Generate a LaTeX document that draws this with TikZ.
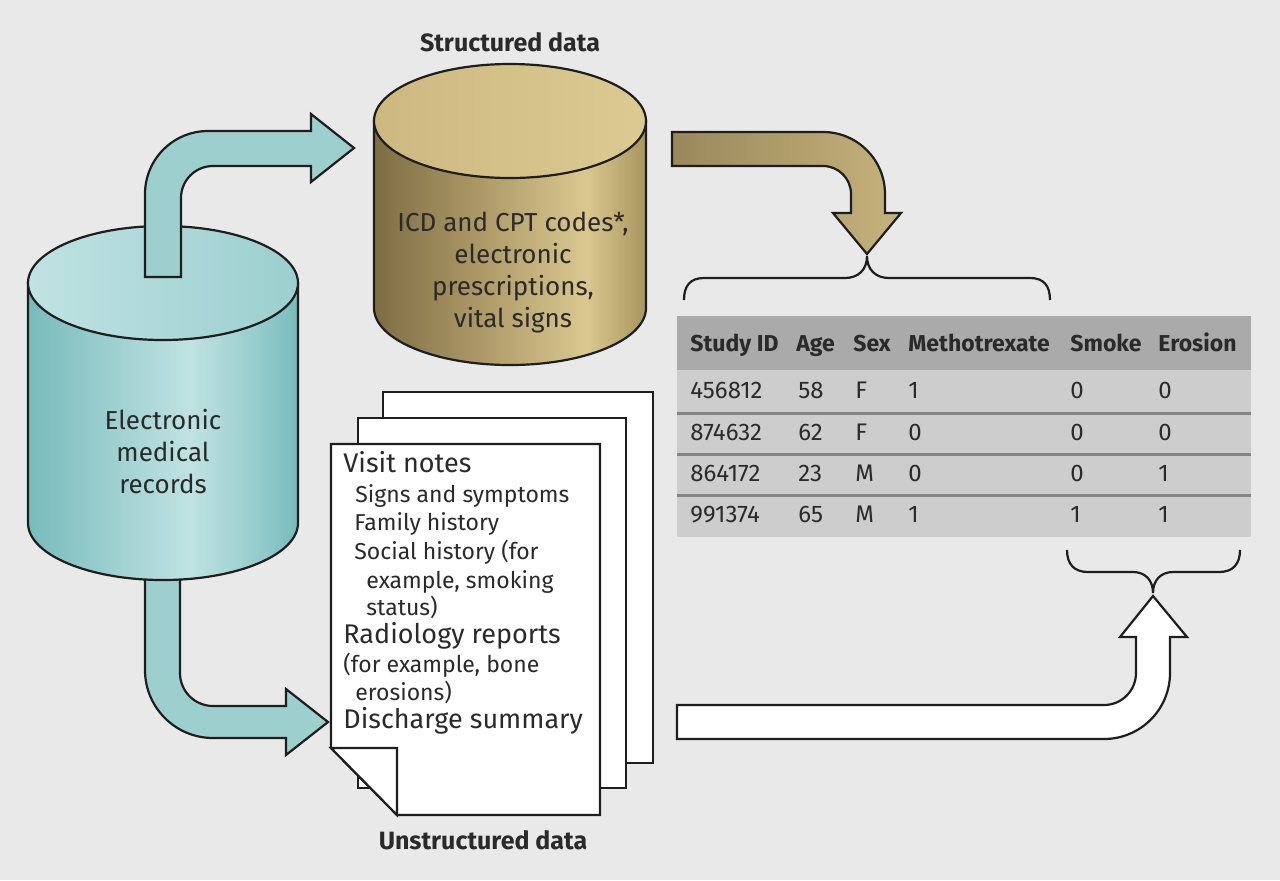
\documentclass[tikz,border=0pt]{standalone}
\usepackage{fontspec}
\setmainfont{Fira Sans}
\definecolor{bg}{HTML}{E9E9E9}
\definecolor{tealD}{HTML}{78BBBC}
\definecolor{tealM}{HTML}{9CCFCF}
\definecolor{tealL}{HTML}{C0E2E2}
\definecolor{tealA}{HTML}{9DCFCE}
\definecolor{goldD}{HTML}{7E6D45}
\definecolor{goldM}{HTML}{AE9A68}
\definecolor{goldL}{HTML}{DAC890}
\definecolor{goldR}{HTML}{A8955F}
\definecolor{goldTL}{HTML}{CDB880}
\definecolor{goldTR}{HTML}{DCCA93}
\definecolor{goldAL}{HTML}{9A885C}
\definecolor{goldAR}{HTML}{C6B27C}
\definecolor{hdr}{HTML}{AAAAAA}
\definecolor{tbody}{HTML}{CDCDCD}
\definecolor{sep}{HTML}{858585}
\definecolor{ink}{HTML}{1E1E1E}
\definecolor{txt}{HTML}{2A2A2A}
\pgfdeclarehorizontalshading{tealside}{100bp}{color(0bp)=(tealD); color(25bp)=(tealD); color(40bp)=(tealM); color(55bp)=(tealL); color(66bp)=(tealM); color(75bp)=(tealD); color(100bp)=(tealD)}
\pgfdeclarehorizontalshading{goldside}{100bp}{color(0bp)=(goldD); color(25bp)=(goldD); color(45bp)=(goldM); color(64bp)=(goldL); color(75bp)=(goldR); color(100bp)=(goldR)}
\begin{document}
\begin{tikzpicture}[x=0.5pt,y=-0.5pt,
  outl/.style={draw=ink, line width=1.1pt, line join=miter},
  tealarrow/.style={outl, fill=tealA},
  cyltext/.style={font=\fontsize{13}{16}\selectfont, align=center, text=txt},
  pgtext/.style={anchor=west, text=txt, inner sep=0pt, text height=1.6ex, text depth=.4ex},
  bigline/.style={pgtext, font=\fontsize{13.5}{16}\selectfont},
  smallline/.style={pgtext, font=\fontsize{11.5}{14}\selectfont},
  thd/.style={anchor=west, inner sep=0pt, text=txt, font=\bfseries\fontsize{11.5}{14}\selectfont, text height=1.6ex, text depth=.4ex},
  tcell/.style={anchor=west, inner sep=0pt, text=txt, font=\fontsize{12}{14}\selectfont, text height=1.6ex, text depth=.4ex},
  bracepath/.style={draw=ink, line width=1.1pt},
  titletext/.style={font=\bfseries\fontsize{12.5}{15}\selectfont, text=txt}]

\fill[bg] (0,0) rectangle (1280,880);
\useasboundingbox (0,0) rectangle (1280,880);

% lower teal arrow (behind EMR cylinder)
\draw[tealarrow] (145,540) -- (145,670) arc[start angle=180,end angle=90,radius=68] -- (286,738) -- (286,755) -- (328,722) -- (286,689) -- (286,706) -- (213,706) arc[start angle=90,end angle=180,radius=33] -- (180,540) -- cycle;

% EMR cylinder
\draw[outl, shade, shading=tealside] (28,283) -- (28,523) arc[start angle=180,end angle=0,x radius=135,y radius=57] -- (298,283) -- cycle;
\draw[outl, left color=tealL, right color=tealM] (163,283) ellipse[x radius=135, y radius=57];
\node[cyltext] (emr) at (163,452) {Electronic\\medical\\records};

% upper teal arrow
\draw[tealarrow] (145,277) -- (145,194) arc[start angle=180,end angle=270,radius=63] -- (311,131) -- (311,114) -- (354,148) -- (311,182) -- (311,166) -- (213,166) arc[start angle=270,end angle=180,radius=32] -- (181,277) -- cycle;

% structured data cylinder
\node[titletext] (sttitle) at (510,42) {Structured data};
\draw[outl, shade, shading=goldside] (374,121) -- (374,308) arc[start angle=180,end angle=0,x radius=136,y radius=57] -- (646,121) -- cycle;
\draw[outl, left color=goldTL, right color=goldTR] (510,121) ellipse[x radius=136, y radius=57];
\node[cyltext] (sd) at (513,273) {ICD and CPT codes*,\\electronic\\prescriptions,\\vital signs};

% gold arrow
\draw[outl, left color=goldAL, right color=goldAR] (672,132) -- (823,132) arc[start angle=270,end angle=360,radius=62] -- (885,213) -- (901,213) -- (867,254) -- (833,213) -- (851,213) -- (851,194) arc[start angle=0,end angle=-90,radius=28] -- (672,166) -- cycle;

% upper brace
\draw[bracepath] (684,300) .. controls (684,286) and (690,278) .. (704,278) -- (845,278) .. controls (858,278) and (867,270) .. (867,256) .. controls (867,270) and (876,278) .. (889,278) -- (1030,278) .. controls (1044,278) and (1050,286) .. (1050,300);

% table
\fill[hdr] (677,316) rectangle (1251,370);
\fill[tbody] (677,370) rectangle (1251,537);
\foreach \yy in {413,454,495} \draw[sep, line width=1.5pt] (677,\yy) -- (1251,\yy);
\node[thd] (h1) at (690,345) {Study ID};
\node[thd] (h2) at (796,345) {Age};
\node[thd] (h3) at (853,345) {Sex};
\node[thd] (h4) at (908,345) {Methotrexate};
\node[thd] (h5) at (1070,345) {Smoke};
\node[thd] (h6) at (1158,345) {Erosion};
\foreach \r/\yy/\a/\b/\c/\d/\e/\f in {1/392/456812/58/F/1/0/0, 2/434/874632/62/F/0/0/0, 3/475/864172/23/M/0/0/1, 4/516/991374/65/M/1/1/1}{
  \node[tcell] (r\r c1) at (690,\yy) {\a};
  \node[tcell] (r\r c2) at (798,\yy) {\b};
  \node[tcell] (r\r c3) at (855,\yy) {\c};
  \node[tcell] (r\r c4) at (908,\yy) {\d};
  \node[tcell] (r\r c5) at (1070,\yy) {\e};
  \node[tcell] (r\r c6) at (1158,\yy) {\f};
}

% pages
\draw[outl, fill=white] (383,392) rectangle (653,763);
\draw[outl, fill=white] (358,418) rectangle (626,788);
\draw[outl, fill=white] (331,444) -- (600,444) -- (600,815) -- (397,815) -- (331,748) -- cycle;
\draw[outl, fill=white] (331,748) -- (397,748) -- (397,815) -- cycle;
\node[bigline] (p1) at (343,466) {Visit notes};
\node[smallline] (p2) at (355,496) {Signs and symptoms};
\node[smallline] (p3) at (354,524) {Family history};
\node[smallline] (p4) at (354,553) {Social history (for};
\node[smallline] (p5) at (366,582) {example, smoking};
\node[smallline] (p6) at (366,609) {status)};
\node[bigline] (p7) at (343,637) {Radiology reports};
\node[smallline] (p8) at (343,666) {(for example, bone};
\node[smallline] (p9) at (355,694) {erosions)};
\node[bigline] (p10) at (343,722) {Discharge summary};
\node[titletext] (unst) at (483,840) {Unstructured data};

% white arrow
\draw[outl, fill=white] (677,705) -- (1104,705) arc[start angle=90,end angle=0,radius=32] -- (1136,637) -- (1120,637) -- (1153,596) -- (1187,637) -- (1170,637) -- (1170,673) arc[start angle=0,end angle=90,radius=66] -- (1104,739) -- (677,739) -- cycle;

% lower brace
\draw[bracepath] (1067,550) .. controls (1067,564) and (1074,572) .. (1088,572) -- (1133,572) .. controls (1145,572) and (1153,580) .. (1153,593) .. controls (1153,580) and (1161,572) .. (1173,572) -- (1219,572) .. controls (1233,572) and (1240,564) .. (1240,550);
\end{tikzpicture}
\end{document}
